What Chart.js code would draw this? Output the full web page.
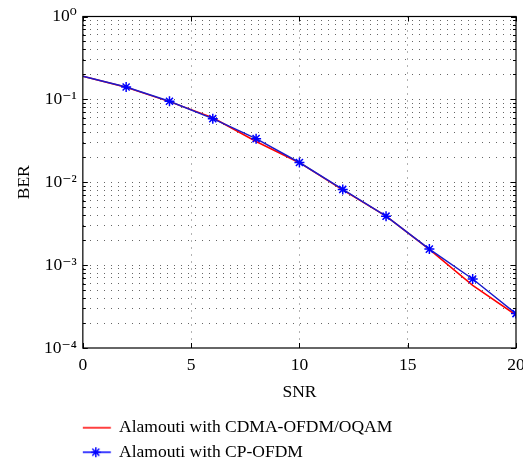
<!DOCTYPE html>
<html>
<head>
<meta charset="utf-8">
<script src="https://cdn.jsdelivr.net/npm/chart.js@4.4.1/dist/chart.umd.min.js"></script>
<style>
html,body{margin:0;padding:0;background:#fff;}
#wrap{width:523px;height:459px;position:relative;}
</style>
</head>
<body>
<div id="wrap"><canvas id="c" width="523" height="459"></canvas></div>
<script>
const snr = [0, 2, 4, 6, 8, 10, 12, 14, 16, 18, 20];
const berCdma = [0.19, 0.140, 0.094, 0.060, 0.031, 0.0172, 0.0081, 0.0039, 0.00155, 0.00057, 0.00025];
const berCp = [0.19, 0.141, 0.095, 0.0585, 0.0336, 0.0173, 0.0082, 0.0039, 0.00156, 0.00068, 0.00026];
const decadeExponents = [-4, -3, -2, -1, 0];
const minorMultipliers = [1, 2, 3, 4, 5, 6, 7, 8, 9];
const xTicks = [0, 5, 10, 15, 20];
const seriesNames = ['Alamouti with CDMA-OFDM/OQAM', 'Alamouti with CP-OFDM'];

const SUP = {'-':'\u207B','0':'\u2070','1':'\u00B9','2':'\u00B2','3':'\u00B3','4':'\u2074','5':'\u2075','6':'\u2076','7':'\u2077','8':'\u2078','9':'\u2079'};
function sup(n){return String(n).split('').map(c=>SUP[c]).join('');}

const yTickValues = [];
decadeExponents.forEach(e => {
  if (e === 0) { yTickValues.push(1); return; }
  minorMultipliers.forEach(m => yTickValues.push(m * Math.pow(10, e)));
});

function makeSample(color, withStar){
  const cv = document.createElement('canvas');
  cv.width = 60; cv.height = 14;
  const g = cv.getContext('2d');
  g.strokeStyle = color; g.lineWidth = 1.5;
  const x0 = 10.75, x1 = 40.75, cx = (x0 + x1) / 2;
  g.beginPath(); g.moveTo(x0, 7); g.lineTo(x1, 7); g.stroke();
  if (withStar) {
    const r = 5;
    for (let k = 0; k < 4; k++) {
      const a = k * Math.PI / 4;
      g.beginPath();
      g.moveTo(cx - r*Math.cos(a), 7 - r*Math.sin(a));
      g.lineTo(cx + r*Math.cos(a), 7 + r*Math.sin(a));
      g.stroke();
    }
  }
  return cv;
}
const sampleRed = makeSample('#ff0000', false);
const sampleBlue = makeSample('#0000ff', true);

const FONT = "'Liberation Serif', 'DejaVu Serif', serif";
const FS = 17.5;

const framePlugin = {
  id: 'frame',
  afterDatasetsDraw(chart) {
    const {ctx, chartArea: a, scales} = chart;
    ctx.save();
    ctx.strokeStyle = '#000';
    ctx.lineWidth = 1.2;
    ctx.strokeRect(a.left, a.top, a.right - a.left, a.bottom - a.top);
    ctx.lineWidth = 1;
    scales.y.ticks.forEach(t => {
      const py = Math.round(scales.y.getPixelForValue(t.value)) + 0.5;
      const isMajor = Math.abs(Math.log10(t.value) - Math.round(Math.log10(t.value))) < 1e-9;
      const len = isMajor ? 5 : 3;
      ctx.beginPath();
      ctx.moveTo(a.left, py); ctx.lineTo(a.left + len, py);
      ctx.moveTo(a.right, py); ctx.lineTo(a.right - len, py);
      ctx.stroke();
    });
    scales.x.ticks.forEach(t => {
      const px = Math.round(scales.x.getPixelForValue(t.value)) + 0.5;
      ctx.beginPath();
      ctx.moveTo(px, a.bottom); ctx.lineTo(px, a.bottom - 5);
      ctx.moveTo(px, a.top); ctx.lineTo(px, a.top + 5);
      ctx.stroke();
    });
    ctx.restore();
  }
};

new Chart(document.getElementById('c'), {
  type: 'line',
  data: {
    datasets: [
      {
        label: seriesNames[0],
        data: snr.map((x, i) => ({x, y: berCdma[i]})),
        borderColor: '#ff0000',
        borderWidth: 1.5,
        pointRadius: 0,
        tension: 0,
        order: 1
      },
      {
        label: seriesNames[1],
        data: snr.map((x, i) => ({x, y: berCp[i]})),
        borderColor: '#1a1acc',
        borderWidth: 1.5,
        pointStyle: 'star',
        pointRadius: ctx => ctx.dataIndex === 0 ? 0 : 5,
        pointBorderColor: '#0000ff',
        pointBorderWidth: 1.5,
        pointBackgroundColor: '#0000ff',
        tension: 0,
        order: 0
      }
    ]
  },
  options: {
    responsive: false,
    animation: false,
    devicePixelRatio: 1,
    layout: {padding: {left: 14, right: 7, top: 4, bottom: -12}},
    plugins: {
      tooltip: {enabled: false},
      legend: {
        position: 'bottom',
        align: 'start',
        fullSize: false,
        labels: {
          usePointStyle: true,
          pointStyleWidth: 20.5,
          padding: 7,
          color: '#000',
          font: {family: FONT, size: FS},
          generateLabels: () => [
            {text: seriesNames[0], pointStyle: sampleRed, fontColor: '#000', datasetIndex: 0, lineWidth: 0, strokeStyle: 'rgba(0,0,0,0)', fillStyle: 'rgba(0,0,0,0)'},
            {text: seriesNames[1], pointStyle: sampleBlue, fontColor: '#000', datasetIndex: 1, lineWidth: 0, strokeStyle: 'rgba(0,0,0,0)', fillStyle: 'rgba(0,0,0,0)'}
          ]
        }
      }
    },
    scales: {
      x: {
        type: 'linear',
        min: 0, max: 20,
        afterBuildTicks: s => { s.ticks = xTicks.map(v => ({value: v})); },
        afterFit: s => { s.paddingRight = 0; },
        ticks: {color: '#000', font: {family: FONT, size: FS}, padding: 7, maxRotation: 0},
        grid: {color: ctx => (ctx.tick && (ctx.tick.value === 0 || ctx.tick.value === 20)) ? 'rgba(0,0,0,0)' : '#666', lineWidth: 1, drawTicks: false},
        border: {display: false, dash: [1, 6]},
        title: {display: true, text: 'SNR', color: '#000', font: {family: FONT, size: FS}, padding: {top: -1, bottom: 9}}
      },
      y: {
        type: 'logarithmic',
        min: 1e-4, max: 1,
        afterBuildTicks: s => { s.ticks = yTickValues.map(v => ({value: v})); },
        ticks: {
          color: '#000',
          font: {family: FONT, size: FS},
          padding: 6,
          autoSkip: false,
          callback: v => {
            const e = Math.log10(v);
            return Math.abs(e - Math.round(e)) < 1e-9 ? '10' + sup(Math.round(e)) : '';
          }
        },
        grid: {color: ctx => (ctx.tick && (ctx.tick.value === 1 || ctx.tick.value === 1e-4)) ? 'rgba(0,0,0,0)' : '#666', lineWidth: 1, drawTicks: false},
        border: {display: false, dash: [1, 6]},
        title: {display: true, text: 'BER', color: '#000', font: {family: FONT, size: FS}, padding: {top: 0, bottom: 3}}
      }
    }
  },
  plugins: [framePlugin]
});
</script>
</body>
</html>
